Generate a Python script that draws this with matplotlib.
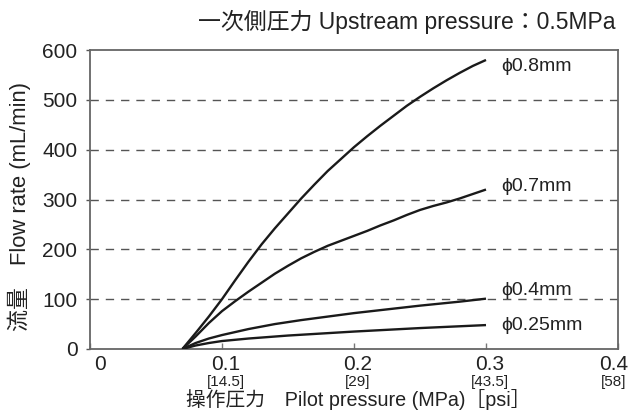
import matplotlib
matplotlib.use("Agg")
import matplotlib.pyplot as plt
from matplotlib.transforms import blended_transform_factory

plt.rcParams['font.family'] = ['Liberation Sans', 'Noto Sans CJK JP', 'DejaVu Sans']

# data
x_08 = [0.07, 0.08, 0.09, 0.1, 0.11, 0.12, 0.13, 0.14, 0.15, 0.16, 0.17, 0.18, 0.19,
        0.2, 0.21, 0.22, 0.23, 0.24, 0.25, 0.26, 0.27, 0.28, 0.29, 0.3]
y_08 = [0, 32, 65, 100, 138, 175, 210, 242, 272, 302, 330, 357, 381,
        405, 427, 448, 468, 488, 506, 523, 539, 554, 568, 580]
x_07 = [0.07, 0.08, 0.09, 0.1, 0.11, 0.12, 0.13, 0.14, 0.15, 0.16, 0.17, 0.18, 0.19,
        0.2, 0.21, 0.22, 0.23, 0.24, 0.25, 0.26, 0.27, 0.28, 0.29, 0.3]
y_07 = [0, 25, 52, 76, 96, 115, 133, 151, 167, 182, 195, 207, 217,
        227, 237, 248, 258, 269, 279, 287, 294, 302, 311, 320]
x_04 = [0.07, 0.08, 0.09, 0.1, 0.12, 0.14, 0.16, 0.18, 0.2, 0.22, 0.25, 0.28, 0.3]
y_04 = [0, 12, 21, 28, 40, 50, 58, 65, 72, 78, 87, 95, 101]
x_025 = [0.07, 0.08, 0.09, 0.1, 0.12, 0.15, 0.2, 0.25, 0.3]
y_025 = [0, 7, 12, 16, 21, 27, 35, 42, 48]
series_labels = ['ϕ0.8mm', 'ϕ0.7mm', 'ϕ0.4mm', 'ϕ0.25mm']
label_y = [566, 327, 118, 48]

xticks = [0, 0.1, 0.2, 0.3, 0.4]
xtick_labels = ['0', '0.1', '0.2', '0.3', '0.4']
psi_labels = ['', '[14.5]', '[29]', '[43.5]', '[58]']
yticks = [0, 100, 200, 300, 400, 500, 600]

fig = plt.figure(figsize=(6.38, 4.12), dpi=100)
ax = fig.add_axes([90/638, 1-349/412, (618-90)/638, (349-50)/412])

for xs, ys in [(x_08, y_08), (x_07, y_07), (x_04, y_04), (x_025, y_025)]:
    ax.plot(xs, ys, color='#1a1a1a', lw=1.7, solid_capstyle='butt',
            solid_joinstyle='round', zorder=3)

for lab, ly in zip(series_labels, label_y):
    ax.text(0.3115, ly, lab, fontsize=14, color='#222', va='center', ha='left')

for yv in yticks[1:-1]:
    ax.axhline(yv, color='#555', lw=1.0, ls=(0, (6, 5)), zorder=1)

ax.set_xlim(0, 0.4)
ax.set_ylim(0, 600)
ax.set_yticks(yticks)
ax.set_yticklabels([str(v) for v in yticks], fontsize=15, color='#222')
ax.set_xticks(xticks)
ax.set_xticklabels([])
ax.tick_params(axis='y', direction='out', length=3, width=1, color='#555', pad=6)
ax.tick_params(axis='x', direction='in', length=4, width=1, color='#777')
for s in ax.spines.values():
    s.set_color('#666')
    s.set_linewidth(1.3)

trans = blended_transform_factory(ax.transData, fig.transFigure)
for xv, tl, pl in zip(xticks, xtick_labels, psi_labels):
    dx = 0.0075 if xv == 0 else (0.003 if xv < 0.35 else -0.003)
    ax.text(xv + dx, 1 - 364/412, tl, transform=trans, fontsize=15, color='#222',
            ha='center', va='center')
    if pl:
        ax.text(xv + dx, 1 - 382/412, pl, transform=trans, fontsize=11, color='#222',
                ha='center', va='center')

fig.text(358/638, 1 - 400/412, '操作圧力　Pilot pressure (MPa)［psi］', fontsize=14.2,
         color='#222', ha='center', va='center')
fig.text(19/638, 1 - 331/412, '流量　Flow rate (mL/min)', fontsize=15.8, color='#222',
         ha='center', va='bottom', rotation=90)
fig.text(616/638, 1 - 22/412, '一次側圧力 Upstream pressure：0.5MPa', fontsize=16.5,
         color='#222', ha='right', va='center')

fig.savefig('out.png', dpi=100)
